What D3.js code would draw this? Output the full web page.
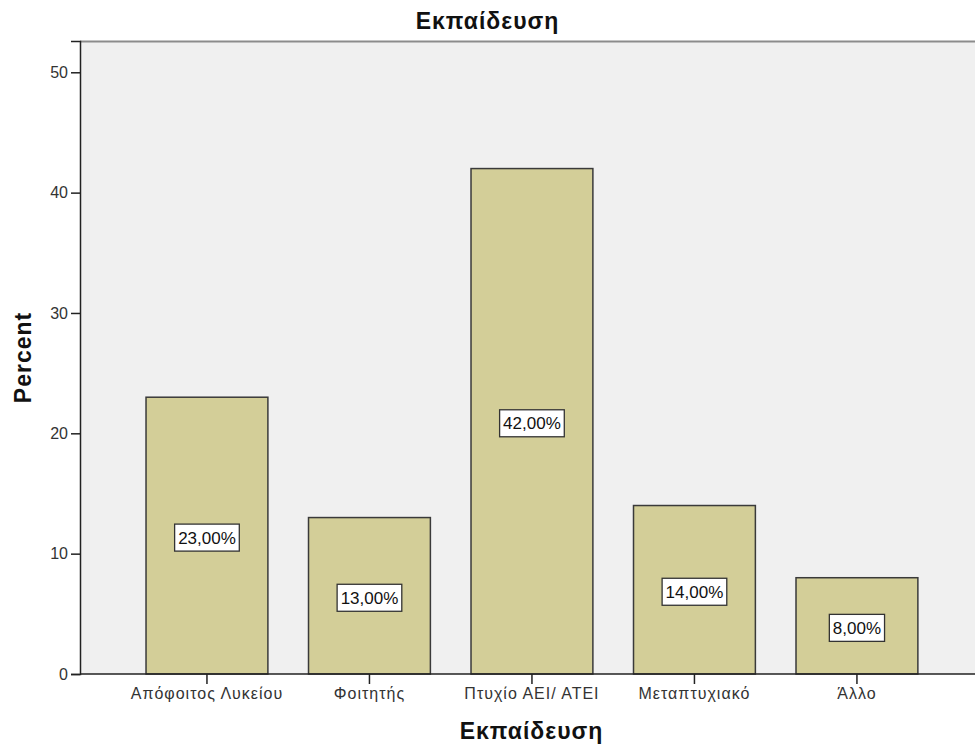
<!DOCTYPE html>
<html>
<head>
<meta charset="utf-8">
<script src="https://cdn.jsdelivr.net/npm/d3@7"></script>
<style>
  html, body { margin: 0; padding: 0; background: #fff; }
  svg { display: block; font-family: "Liberation Sans", Arial, sans-serif; }
</style>
</head>
<body>
<svg id="chart" width="975" height="749"></svg>
<script>
// Education level distribution (percent of respondents)
const categories = ["Απόφοιτος Λυκείου", "Φοιτητής", "Πτυχίο ΑΕΙ/ ΑΤΕΙ", "Μεταπτυχιακό", "Άλλο"];
const percents = [23, 13, 42, 14, 8];
const yTicks = [0, 10, 20, 30, 40, 50];
const chartTitle = "Εκπαίδευση";
const xTitle = "Εκπαίδευση";
const yTitle = "Percent";

const svg = d3.select("#chart");
const W = 975, H = 749;
const plot = { left: 80, top: 41, right: 990, bottom: 674 };

const x = d3.scaleBand()
  .domain(categories)
  .range([105.4, 958.5])
  .paddingInner(0.25)
  .paddingOuter(0.25);

const y = d3.scaleLinear()
  .domain([0, 52.6])
  .range([plot.bottom, plot.top]);

// plot background and frame
svg.append("rect")
  .attr("x", plot.left).attr("y", plot.top)
  .attr("width", plot.right - plot.left).attr("height", plot.bottom - plot.top)
  .attr("fill", "#f0f0f0");
svg.append("line")
  .attr("x1", plot.left).attr("x2", plot.right)
  .attr("y1", plot.top + 0.5).attr("y2", plot.top + 0.5)
  .attr("stroke", "#8c8c8c").attr("stroke-width", 2);

// bars
svg.append("g").selectAll("rect")
  .data(categories)
  .join("rect")
  .attr("x", d => x(d))
  .attr("y", (d, i) => y(percents[i]))
  .attr("width", x.bandwidth())
  .attr("height", (d, i) => y(0) - y(percents[i]))
  .attr("fill", "#d3ce98")
  .attr("stroke", "#3a3a3a")
  .attr("stroke-width", 1.5);

// value labels in boxes
const fmt = v => v.toFixed(2).replace(".", ",") + "%";
const labels = svg.append("g").selectAll("g")
  .data(categories)
  .join("g")
  .attr("transform", (d, i) => `translate(${x(d) + x.bandwidth() / 2},${(y(percents[i]) + y(0)) / 2 + 2})`);
labels.append("text")
  .attr("text-anchor", "middle")
  .attr("dy", "0.36em")
  .attr("font-size", 17)
  .attr("fill", "#111")
  .text((d, i) => fmt(percents[i]));
labels.each(function() {
  const g = d3.select(this);
  const bb = g.select("text").node().getBBox();
  g.insert("rect", "text")
    .attr("x", bb.x - 3.5).attr("y", -13.5)
    .attr("width", bb.width + 7).attr("height", 27)
    .attr("fill", "#fff")
    .attr("stroke", "#333")
    .attr("stroke-width", 1.3);
});

// y axis
const yAxis = svg.append("g")
  .attr("transform", `translate(${plot.left},0)`)
  .call(d3.axisLeft(y).tickValues(yTicks).tickSize(9).tickPadding(3).tickFormat(d3.format("d")));
yAxis.select(".domain").attr("stroke", "#222").attr("stroke-width", 1.5);
yAxis.selectAll(".tick line").attr("stroke", "#222").attr("stroke-width", 1.5);
yAxis.selectAll(".tick text").attr("font-size", 16).attr("fill", "#333").attr("font-family", "Liberation Sans, Arial, sans-serif");

// x axis
const xAxis = svg.append("g")
  .attr("transform", `translate(0,${plot.bottom})`)
  .call(d3.axisBottom(x).tickSize(10).tickPadding(4).tickSizeOuter(0));
xAxis.select(".domain").attr("stroke", "#222").attr("stroke-width", 1.5)
  .attr("d", `M${plot.left},0H${plot.right}`);
xAxis.selectAll(".tick line").attr("stroke", "#222").attr("stroke-width", 1.5);
xAxis.selectAll(".tick text").attr("font-size", 16).attr("fill", "#333")
  .attr("letter-spacing", 1).attr("font-family", "Liberation Sans, Arial, sans-serif");

// titles
svg.append("text")
  .attr("x", W / 2).attr("y", 29)
  .attr("text-anchor", "middle")
  .attr("font-size", 23).attr("font-weight", "bold").attr("fill", "#111")
  .attr("letter-spacing", 1)
  .text(chartTitle);
svg.append("text")
  .attr("x", (plot.left + 975) / 2 + 4).attr("y", 739)
  .attr("text-anchor", "middle")
  .attr("font-size", 23).attr("font-weight", "bold").attr("fill", "#111")
  .attr("letter-spacing", 1)
  .text(xTitle);
svg.append("text")
  .attr("transform", `translate(31,${(plot.top + plot.bottom) / 2}) rotate(-90)`)
  .attr("text-anchor", "middle")
  .attr("font-size", 23).attr("font-weight", "bold").attr("fill", "#111")
  .attr("letter-spacing", 1)
  .text(yTitle);
</script>
</body>
</html>
